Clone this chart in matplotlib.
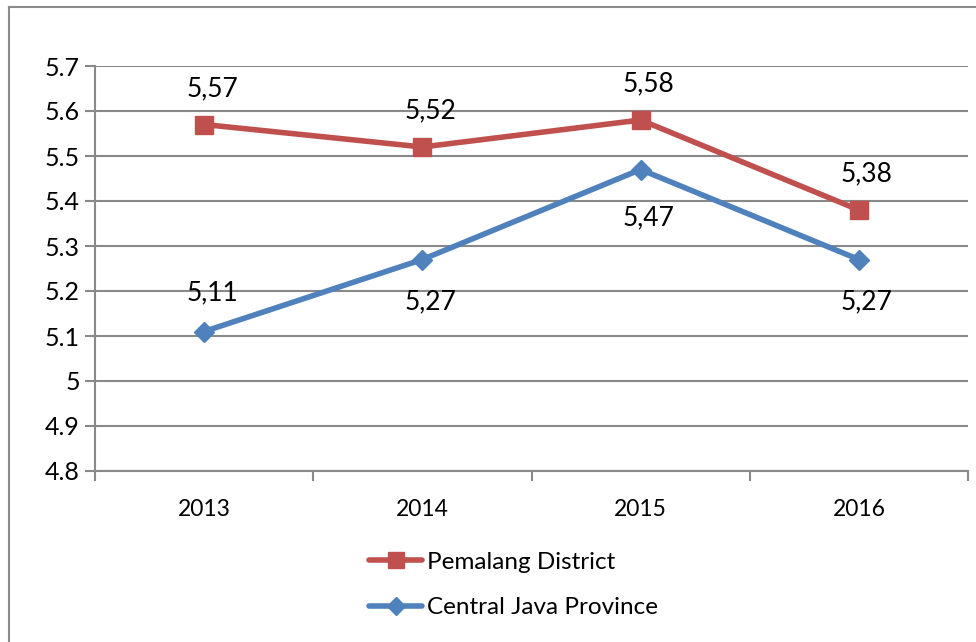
import matplotlib.pyplot as plt
from matplotlib.lines import Line2D

years = ["2013", "2014", "2015", "2016"]
pemalang = [5.57, 5.52, 5.58, 5.38]
central_java = [5.11, 5.27, 5.47, 5.27]
pemalang_labels = ["5,57", "5,52", "5,58", "5,38"]
central_java_labels = ["5,11", "5,27", "5,47", "5,27"]
y_ticks = [4.8, 4.9, 5.0, 5.1, 5.2, 5.3, 5.4, 5.5, 5.6, 5.7]
y_tick_labels = ["4.8", "4.9", "5", "5.1", "5.2", "5.3", "5.4", "5.5", "5.6", "5.7"]

red = "#C0504D"
blue = "#4F81BD"
grid_gray = "#898989"

plt.rcParams["font.family"] = ["Lato", "DejaVu Sans"]

fig = plt.figure(figsize=(9.76, 6.42), dpi=100)
ax = fig.add_axes([95 / 976, 1 - 471 / 642, 873 / 976, 405 / 642])

x = list(range(len(years)))
ax.plot(x, pemalang, color=red, lw=4, marker="s", ms=13, label="Pemalang District",
        solid_capstyle="round", zorder=3)
ax.plot(x, central_java, color=blue, lw=4, marker="D", ms=10, label="Central Java Province",
        solid_capstyle="round", zorder=3)

# data labels
for xi, v, lab in zip(x, pemalang, pemalang_labels):
    ax.annotate(lab, (xi, v), xytext=(8, 36), textcoords="offset pixels",
                ha="center", va="center", fontsize=19)
cj_offsets = [39, -42, -48, -42]
for xi, v, lab, off in zip(x, central_java, central_java_labels, cj_offsets):
    ax.annotate(lab, (xi, v), xytext=(8, off), textcoords="offset pixels",
                ha="center", va="center", fontsize=19)

ax.set_xlim(-0.5, len(years) - 0.5)
ax.set_ylim(4.8, 5.7)
ax.set_yticks(y_ticks)
ax.set_yticklabels(y_tick_labels, fontsize=18)
ax.set_xticks(x)
ax.set_xticklabels(years, fontsize=16.5)
ax.set_xticks([i - 0.5 for i in range(len(years) + 1)], minor=True)
ax.tick_params(axis="x", which="major", length=0, pad=20)
ax.tick_params(axis="x", which="minor", length=7, color=grid_gray, width=1.5)
ax.tick_params(axis="y", length=7, color=grid_gray, width=1.5, pad=4)

ax.grid(axis="y", color=grid_gray, lw=1.5)
ax.set_axisbelow(True)
for side in ["top", "right"]:
    ax.spines[side].set_visible(False)
for side in ["left", "bottom"]:
    ax.spines[side].set_color(grid_gray)
    ax.spines[side].set_linewidth(1.5)

leg = fig.legend(loc="upper left", bbox_to_anchor=(347 / 976, 1 - 530 / 642),
                 frameon=False, fontsize=17.5, handlelength=2.2, handletextpad=0.2,
                 labelspacing=1.0, markerscale=0.9)

# outer chart border (left and top visible)
fig.add_artist(Line2D([9 / 976, 9 / 976], [0, 1 - 7 / 642], color="#8c8c8c", lw=1.5))
fig.add_artist(Line2D([9 / 976, 1], [1 - 7 / 642, 1 - 7 / 642], color="#8c8c8c", lw=1.5))

fig.savefig("out.png", dpi=100)
